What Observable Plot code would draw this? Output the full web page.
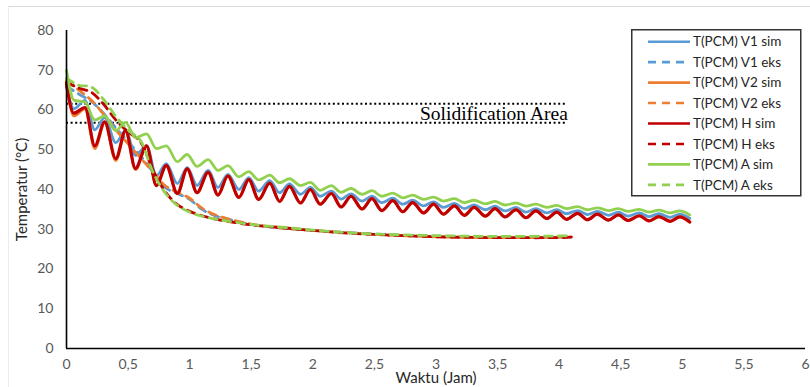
<!DOCTYPE html>
<html>
<head>
<meta charset="utf-8">
<script src="https://cdn.jsdelivr.net/npm/d3@7"></script>
<script src="https://cdn.jsdelivr.net/npm/@observablehq/plot@0.6"></script>
<style>
  html, body { margin: 0; padding: 0; background: #fff; }
  #wrap { position: relative; width: 810px; height: 387px; overflow: hidden; background: #fff; }
  #frame { position: absolute; left: 8px; top: 6px; width: 820px; height: 400px; border-top: 1px solid #d9d9d9; border-left: 1px solid #ececec; pointer-events: none; }
</style>
</head>
<body>
<div id="wrap"><div id="frame"></div></div>
<script>
// ---- data ----
const simT = [0, 0.06, 0.15, 0.23, 0.31, 0.40, 0.48, 0.56, 0.65, 0.73, 0.81, 0.90, 0.98, 1.06, 1.15, 1.23, 1.31, 1.40, 1.48, 1.56, 1.65, 1.73, 1.81, 1.90, 1.98, 2.06, 2.15, 2.23, 2.31, 2.40, 2.48, 2.56, 2.65, 2.73, 2.81, 2.90, 2.98, 3.06, 3.15, 3.23, 3.31, 3.40, 3.48, 3.56, 3.65, 3.73, 3.81, 3.90, 3.98, 4.06, 4.15, 4.23, 4.31, 4.40, 4.48, 4.56, 4.65, 4.73, 4.81, 4.90, 4.98, 5.06];
const v1Sim = [66, 60.3, 62.4, 55, 58.1, 51.8, 54.8, 48.6, 51, 43.5, 46.5, 41.5, 45.5, 41, 44.8, 40.5, 43.8, 40, 43, 39.6, 42.2, 39.2, 41.4, 38.8, 40.5, 38.3, 39.6, 37.6, 38.9, 37.1, 38.3, 36.7, 37.8, 36.3, 37.3, 35.9, 36.9, 35.5, 36.5, 35.2, 36.1, 34.9, 35.8, 34.6, 35.5, 34.3, 35.2, 34.1, 34.9, 33.9, 34.7, 33.7, 34.5, 33.5, 34.3, 33.3, 34.1, 33.2, 33.9, 33.0, 33.8, 32.7];
const v2Sim = [67, 58.5, 60.3, 50.3, 56.8, 47.3, 54.6, 45, 50.9, 41, 46, 39, 45.2, 39.2, 44.3, 38.6, 43.4, 38, 42.5, 37.5, 41.6, 37, 40.8, 36.6, 40, 36.3, 39, 35.6, 38.3, 35.1, 37.7, 34.7, 37.2, 34.4, 36.7, 34.1, 36.3, 33.8, 35.9, 33.5, 35.5, 33.3, 35.2, 33.1, 34.9, 32.9, 34.6, 32.7, 34.3, 32.5, 34, 32.4, 33.8, 32.3, 33.6, 32.2, 33.4, 32.1, 33.2, 32, 33.1, 31.8];
const hSim = [66.5, 59.2, 60.6, 51, 57, 47.8, 54.8, 45.3, 51, 41, 46, 39, 45.2, 39.2, 44.3, 38.6, 43.4, 38, 42.5, 37.5, 41.6, 37, 40.8, 36.6, 40, 36.3, 39, 35.6, 38.3, 35.1, 37.7, 34.7, 37.2, 34.4, 36.7, 34.1, 36.3, 33.8, 35.9, 33.5, 35.5, 33.3, 35.2, 33.1, 34.9, 32.9, 34.6, 32.7, 34.3, 32.5, 34, 32.4, 33.8, 32.3, 33.6, 32.2, 33.4, 32.1, 33.2, 32, 33.1, 31.8];
const aSim = [70, 62.5, 62, 57.5, 58.5, 54.8, 56.9, 53, 54, 50.3, 51, 47, 48.8, 45.8, 47.5, 44.8, 46, 43.2, 44.5, 42.4, 43.6, 41.7, 42.7, 41, 41.8, 39.8, 41, 39.3, 40.3, 38.8, 39.7, 38.3, 39.1, 37.9, 38.6, 37.5, 38.1, 37.1, 37.7, 36.7, 37.3, 36.4, 37, 36.1, 36.6, 35.8, 36.3, 35.5, 36, 35.2, 35.7, 34.9, 35.4, 34.7, 35.2, 34.5, 35, 34.3, 34.8, 34.1, 34.6, 33.6];

const eksT = [0, 0.1, 0.2, 0.3, 0.4, 0.5, 0.6, 0.7, 0.8, 0.9, 1.0, 1.1, 1.2, 1.3, 1.5, 1.75, 2.0, 2.25, 2.5, 3.0, 3.5, 4.0, 4.1];
const v1Eks = [66, 64, 62.2, 59.2, 55.5, 52, 48.5, 44.5, 40.5, 39, 37.5, 35, 33.5, 32.6, 31.2, 30.3, 29.7, 29.2, 28.8, 28.2, 28, 28, 28.1];
const v2Eks = [67.5, 65, 62.5, 59, 55, 51.5, 48, 44.5, 41, 39.3, 37.8, 35.3, 33.7, 32.7, 31.3, 30.3, 29.7, 29.2, 28.7, 28.1, 27.9, 28, 28.1];
const hEks = [67, 65.5, 64.5, 61.5, 57.5, 54.5, 52, 45, 39.5, 36.2, 34.5, 33.4, 32.6, 32, 31.1, 30.4, 29.7, 29.1, 28.7, 28.1, 27.9, 27.9, 28];
const aEks = [68, 66.2, 65.8, 62.7, 58.4, 55, 52.3, 44.5, 39.2, 36, 34.3, 33.3, 32.6, 32.1, 31.2, 30.5, 29.8, 29.2, 28.8, 28.4, 28.2, 28.3, 28.4];

const seriesNames = ["T(PCM) V1 sim", "T(PCM) V1 eks", "T(PCM) V2 sim", "T(PCM) V2 eks", "T(PCM) H sim", "T(PCM) H eks", "T(PCM) A sim", "T(PCM) A eks"];
const seriesColors = ["#5B9BD5", "#5B9BD5", "#ED7D31", "#ED7D31", "#C00000", "#C00000", "#92D050", "#92D050"];
const seriesDashed = [false, true, false, true, false, true, false, true];

const xTicks = [0, 0.5, 1, 1.5, 2, 2.5, 3, 3.5, 4, 4.5, 5, 5.5, 6];
const xTickLabels = ["0", "0,5", "1", "1,5", "2", "2,5", "3", "3,5", "4", "4,5", "5", "5,5", "6"];
const yTicks = [0, 10, 20, 30, 40, 50, 60, 70, 80];
const yTickLabels = ["0", "10", "20", "30", "40", "50", "60", "70", "80"];

const solidLevels = [61.6, 56.8];
const solidEnd = 4.07;
const solidLabel = "Solidification Area";
const solidLabelPos = [{x: 4.07, y: 59.1}];
const xLabel = "Waktu (Jam)";
const yLabel = "Temperatur (°C)";

// ---- build ----
const toRows = (t, v) => t.map((x, i) => ({t: x, v: v[i]}));
const seriesData = [
  toRows(simT, v1Sim), toRows(eksT, v1Eks),
  toRows(simT, v2Sim), toRows(eksT, v2Eks),
  toRows(simT, hSim), toRows(eksT, hEks),
  toRows(simT, aSim), toRows(eksT, aEks)
];

const lineMarks = seriesData.map((d, i) => Plot.line(d, {
  x: "t", y: "v",
  stroke: seriesColors[i],
  strokeWidth: seriesDashed[i] ? 2.8 : (seriesColors[i] === "#C00000" ? 3.2 : 2.8),
  strokeDasharray: seriesDashed[i] ? "8,6" : null,
  curve: seriesDashed[i] ? "catmull-rom" : "monotone-x"
}));

const chart = Plot.plot({
  width: 810, height: 387,
  marginLeft: 66, marginRight: 5, marginTop: 30, marginBottom: 39,
  style: {fontFamily: "Lato, 'Open Sans', sans-serif", background: "transparent", overflow: "visible"},
  x: {domain: [0, 6]},
  y: {domain: [0, 80]},
  marks: [
    Plot.axisY({ticks: yTicks, tickFormat: (d, i) => yTickLabels[i], tickSize: 0, tickPadding: 13, fontSize: 14, color: "#595959", label: null}),
    Plot.axisX({ticks: xTicks, tickFormat: (d, i) => xTickLabels[i], tickSize: 0, tickPadding: 11, fontSize: 14, color: "#595959", label: null}),
    Plot.ruleY(solidLevels, {x1: 0, x2: solidEnd, stroke: "#000", strokeWidth: 2, strokeDasharray: "2,2.6"}),
    ...lineMarks,
    Plot.ruleX([0], {stroke: "#000", strokeWidth: 1.6}),
    Plot.ruleY([0], {stroke: "#000", strokeWidth: 1.6}),
    Plot.text(solidLabelPos, {x: "x", y: "y", text: () => solidLabel, textAnchor: "end", lineAnchor: "middle", fontFamily: "'Liberation Serif', serif", fontSize: 19.5, fill: "#000"}),
    Plot.text([yLabel], {frameAnchor: "left", textAnchor: "middle", lineAnchor: "middle", dx: -44, rotate: -90, fontSize: 15, fill: "#262626"}),
    Plot.text([xLabel], {frameAnchor: "bottom", textAnchor: "middle", lineAnchor: "middle", dy: 30, fontSize: 15, fill: "#262626"})
  ]
});
chart.style.position = "absolute";
chart.style.left = "0px";
chart.style.top = "0px";
document.getElementById("wrap").appendChild(chart);

// ---- legend ----
const lw = 169, lh = 166, rowH = 20.45, firstY = 12.7;
const leg = d3.create("svg").attr("width", lw + 2).attr("height", lh + 2)
  .style("position", "absolute").style("left", "631px").style("top", "29px");
leg.append("rect").attr("x", 0.75).attr("y", 0.75).attr("width", lw).attr("height", lh)
  .attr("fill", "#fff").attr("stroke", "#333").attr("stroke-width", 1.5);
seriesNames.forEach((name, i) => {
  const y = firstY + i * rowH;
  leg.append("line").attr("x1", 17).attr("x2", 59).attr("y1", y).attr("y2", y)
    .attr("stroke", seriesColors[i]).attr("stroke-width", 2.6)
    .attr("stroke-dasharray", seriesDashed[i] ? "8,6" : null);
  leg.append("text").attr("x", 62).attr("y", y).attr("dy", "0.35em")
    .attr("font-family", "Lato, 'Open Sans', sans-serif").attr("font-size", 13.5)
    .attr("fill", "#262626").text(name);
});
document.getElementById("wrap").appendChild(leg.node());
</script>
</body>
</html>
